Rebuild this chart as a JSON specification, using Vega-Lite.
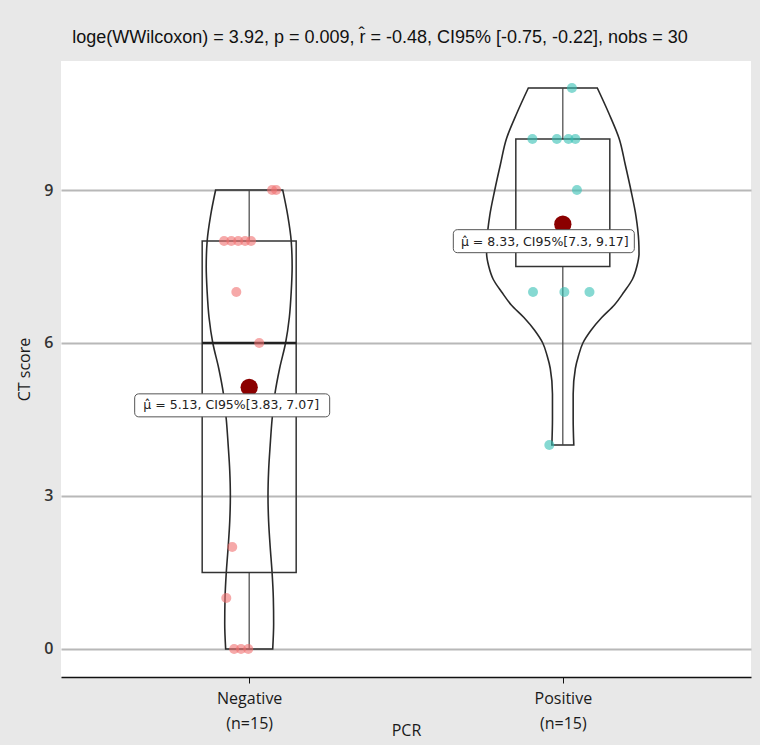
{
  "$schema": "https://vega.github.io/schema/vega-lite/v6.json",
  "width": 690,
  "height": 616,
  "autosize": {"type": "none"},
  "padding": {"left": 61, "top": 61, "right": 9, "bottom": 68},
  "background": "#e8e8e8",
  "view": {"fill": "white", "stroke": null},
  "title": {
    "text": "loge(WWilcoxon) = 3.92, p = 0.009, r̂ = -0.48, CI95% [-0.75, -0.22], nobs = 30",
    "font": "Liberation Sans",
    "fontSize": 18,
    "fontWeight": "normal",
    "color": "#111111",
    "anchor": "middle",
    "dx": -26,
    "offset": 14
  },
  "config": {
    "axisY": {
      "grid": true,
      "gridColor": "#b8b8b8",
      "gridWidth": 2,
      "domain": false,
      "ticks": false,
      "labelFont": "Open Sans",
      "labelFontSize": 16,
      "labelFontWeight": 600,
      "labelColor": "#333333",
      "labelPadding": 8,
      "titleFont": "Open Sans",
      "titleFontSize": 16,
      "titleFontWeight": "normal",
      "titleColor": "#1a1a1a",
      "titlePadding": 11
    },
    "axisX": {
      "grid": false,
      "domainColor": "#111111",
      "domainWidth": 1.5,
      "tickColor": "#111111",
      "tickSize": 6,
      "labelFont": "Open Sans",
      "labelFontSize": 16,
      "labelColor": "#1a1a1a",
      "labelPadding": 7,
      "labelLineHeight": 25,
      "labelAngle": 0,
      "titleFont": "Open Sans",
      "titleFontSize": 16,
      "titleFontWeight": "normal",
      "titleColor": "#1a1a1a",
      "titlePadding": -9
    }
  },
  "datasets": {
    "violin": [
      {"g": "Negative", "v": 0, "lo": 0.925, "hi": 1.075},
      {"g": "Negative", "v": 0.5, "lo": 0.922, "hi": 1.078},
      {"g": "Negative", "v": 1, "lo": 0.923, "hi": 1.077},
      {"g": "Negative", "v": 1.5, "lo": 0.927, "hi": 1.073},
      {"g": "Negative", "v": 2, "lo": 0.933, "hi": 1.067},
      {"g": "Negative", "v": 2.5, "lo": 0.938, "hi": 1.062},
      {"g": "Negative", "v": 3, "lo": 0.94, "hi": 1.06},
      {"g": "Negative", "v": 3.5, "lo": 0.938, "hi": 1.062},
      {"g": "Negative", "v": 4, "lo": 0.933, "hi": 1.067},
      {"g": "Negative", "v": 4.5, "lo": 0.927, "hi": 1.073},
      {"g": "Negative", "v": 5, "lo": 0.918, "hi": 1.082},
      {"g": "Negative", "v": 5.5, "lo": 0.903, "hi": 1.097},
      {"g": "Negative", "v": 6, "lo": 0.884, "hi": 1.116},
      {"g": "Negative", "v": 6.5, "lo": 0.872, "hi": 1.128},
      {"g": "Negative", "v": 7, "lo": 0.866, "hi": 1.134},
      {"g": "Negative", "v": 7.5, "lo": 0.863, "hi": 1.137},
      {"g": "Negative", "v": 8, "lo": 0.866, "hi": 1.134},
      {"g": "Negative", "v": 8.5, "lo": 0.877, "hi": 1.123},
      {"g": "Negative", "v": 9, "lo": 0.893, "hi": 1.107},
      {"g": "Positive", "v": 4, "lo": 1.965, "hi": 2.035},
      {"g": "Positive", "v": 4.5, "lo": 1.967, "hi": 2.033},
      {"g": "Positive", "v": 5, "lo": 1.967, "hi": 2.033},
      {"g": "Positive", "v": 5.5, "lo": 1.96, "hi": 2.04},
      {"g": "Positive", "v": 5.75, "lo": 1.95, "hi": 2.05},
      {"g": "Positive", "v": 6, "lo": 1.936, "hi": 2.064},
      {"g": "Positive", "v": 6.25, "lo": 1.91, "hi": 2.09},
      {"g": "Positive", "v": 6.5, "lo": 1.876, "hi": 2.124},
      {"g": "Positive", "v": 6.75, "lo": 1.835, "hi": 2.165},
      {"g": "Positive", "v": 7, "lo": 1.805, "hi": 2.195},
      {"g": "Positive", "v": 7.25, "lo": 1.778, "hi": 2.222},
      {"g": "Positive", "v": 7.5, "lo": 1.764, "hi": 2.236},
      {"g": "Positive", "v": 7.75, "lo": 1.757, "hi": 2.243},
      {"g": "Positive", "v": 8, "lo": 1.758, "hi": 2.242},
      {"g": "Positive", "v": 8.5, "lo": 1.767, "hi": 2.233},
      {"g": "Positive", "v": 9, "lo": 1.783, "hi": 2.217},
      {"g": "Positive", "v": 9.5, "lo": 1.801, "hi": 2.199},
      {"g": "Positive", "v": 10, "lo": 1.82, "hi": 2.18},
      {"g": "Positive", "v": 10.5, "lo": 1.853, "hi": 2.147},
      {"g": "Positive", "v": 11, "lo": 1.89, "hi": 2.11}
    ],
    "box": [
      {"g": "Negative", "x": 1, "lower": 0, "q1": 1.5, "median": 6, "q3": 8, "upper": 9},
      {"g": "Positive", "x": 2, "lower": 4, "q1": 7.5, "median": 10, "q3": 10, "upper": 11}
    ],
    "pts": [
      {"g": "Negative", "x": 1.073, "v": 9},
      {"g": "Negative", "x": 1.086, "v": 9},
      {"g": "Negative", "x": 0.92, "v": 8},
      {"g": "Negative", "x": 0.943, "v": 8},
      {"g": "Negative", "x": 0.965, "v": 8},
      {"g": "Negative", "x": 0.987, "v": 8},
      {"g": "Negative", "x": 1.006, "v": 8},
      {"g": "Negative", "x": 0.959, "v": 7},
      {"g": "Negative", "x": 1.032, "v": 6},
      {"g": "Negative", "x": 0.946, "v": 2},
      {"g": "Negative", "x": 0.927, "v": 1},
      {"g": "Negative", "x": 0.952, "v": 0},
      {"g": "Negative", "x": 0.974, "v": 0},
      {"g": "Negative", "x": 0.997, "v": 0},
      {"g": "Positive", "x": 2.029, "v": 11},
      {"g": "Positive", "x": 1.903, "v": 10},
      {"g": "Positive", "x": 1.981, "v": 10},
      {"g": "Positive", "x": 2.018, "v": 10},
      {"g": "Positive", "x": 2.04, "v": 10},
      {"g": "Positive", "x": 2.045, "v": 9},
      {"g": "Positive", "x": 1.905, "v": 7},
      {"g": "Positive", "x": 2.005, "v": 7},
      {"g": "Positive", "x": 2.085, "v": 7},
      {"g": "Positive", "x": 1.957, "v": 4}
    ],
    "means": [
      {"g": "Negative", "x": 1, "mean": 5.13, "lab": "μ̂ = 5.13, CI95%[3.83, 7.07]"},
      {"g": "Positive", "x": 2, "mean": 8.33, "lab": "μ̂ = 8.33, CI95%[7.3, 9.17]"}
    ]
  },
  "layer": [
    {
      "data": {"name": "violin"},
      "mark": {"type": "area", "orient": "horizontal", "interpolate": "monotone", "fill": "transparent", "stroke": "#2a2a2a", "strokeWidth": 1.6},
      "encoding": {
        "y": {"field": "v", "type": "quantitative", "scale": {"domain": [-0.55, 11.53], "nice": false, "zero": false}, "axis": {"values": [0, 3, 6, 9]}, "title": "CT score"},
        "x": {"field": "lo", "type": "quantitative", "scale": {"domain": [0.4, 2.6], "nice": false, "zero": false}, "axis": {"values": [1, 2], "labelExpr": "datum.value == 1 ? ['Negative', '(n=15)'] : ['Positive', '(n=15)']"}, "title": "PCR"},
        "x2": {"field": "hi"},
        "detail": {"field": "g"}
      }
    },
    {
      "data": {"name": "box"},
      "mark": {"type": "rule", "color": "#444444", "strokeWidth": 1.2},
      "encoding": {
        "x": {"field": "x", "type": "quantitative", "title": "PCR"},
        "y": {"field": "lower", "type": "quantitative", "title": "CT score"},
        "y2": {"field": "q1"}
      }
    },
    {
      "data": {"name": "box"},
      "mark": {"type": "rule", "color": "#444444", "strokeWidth": 1.2},
      "encoding": {
        "x": {"field": "x", "type": "quantitative", "title": "PCR"},
        "y": {"field": "q3", "type": "quantitative", "title": "CT score"},
        "y2": {"field": "upper"}
      }
    },
    {
      "data": {"name": "box"},
      "mark": {"type": "rect", "width": 94, "fill": "transparent", "stroke": "#333333", "strokeWidth": 1.5},
      "encoding": {
        "x": {"field": "x", "type": "quantitative", "title": "PCR"},
        "y": {"field": "q1", "type": "quantitative", "title": "CT score"},
        "y2": {"field": "q3"}
      }
    },
    {
      "data": {"name": "box"},
      "transform": [{"filter": "datum.g == 'Negative'"}],
      "mark": {"type": "tick", "orient": "horizontal", "size": 94, "thickness": 2.5, "color": "#222222", "opacity": 1},
      "encoding": {
        "x": {"field": "x", "type": "quantitative", "title": "PCR"},
        "y": {"field": "median", "type": "quantitative", "title": "CT score"}
      }
    },
    {
      "data": {"name": "pts"},
      "mark": {"type": "point", "filled": true, "size": 100, "opacity": 0.6},
      "encoding": {
        "x": {"field": "x", "type": "quantitative", "title": "PCR"},
        "y": {"field": "v", "type": "quantitative", "title": "CT score"},
        "color": {"field": "g", "type": "nominal", "scale": {"domain": ["Negative", "Positive"], "range": ["#f07070", "#36c0b4"]}, "legend": null}
      }
    },
    {
      "data": {"name": "means"},
      "mark": {"type": "point", "filled": true, "size": 300, "opacity": 1, "color": "#8b0000"},
      "encoding": {
        "x": {"field": "x", "type": "quantitative", "title": "PCR"},
        "y": {"field": "mean", "type": "quantitative", "title": "CT score"}
      }
    },
    {
      "data": {"name": "means"},
      "transform": [{"filter": "datum.g == 'Negative'"}],
      "mark": {"type": "rect", "width": 195, "height": 23, "xOffset": -17, "yOffset": 18, "fill": "white", "stroke": "#555555", "strokeWidth": 1, "cornerRadius": 4},
      "encoding": {
        "x": {"field": "x", "type": "quantitative", "title": "PCR"},
        "y": {"field": "mean", "type": "quantitative", "title": "CT score"}
      }
    },
    {
      "data": {"name": "means"},
      "transform": [{"filter": "datum.g == 'Positive'"}],
      "mark": {"type": "rect", "width": 181, "height": 23, "xOffset": -19, "yOffset": 17, "fill": "white", "stroke": "#555555", "strokeWidth": 1, "cornerRadius": 4},
      "encoding": {
        "x": {"field": "x", "type": "quantitative", "title": "PCR"},
        "y": {"field": "mean", "type": "quantitative", "title": "CT score"}
      }
    },
    {
      "data": {"name": "means"},
      "mark": {"type": "text", "font": "DejaVu Sans", "fontSize": 12.5, "color": "#222222", "dx": -18, "dy": 18, "align": "center", "baseline": "middle"},
      "encoding": {
        "x": {"field": "x", "type": "quantitative", "title": "PCR"},
        "y": {"field": "mean", "type": "quantitative", "title": "CT score"},
        "text": {"field": "lab"}
      }
    }
  ]
}
